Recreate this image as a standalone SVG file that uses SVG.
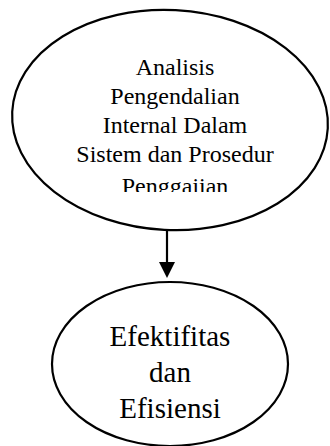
<svg xmlns="http://www.w3.org/2000/svg" width="330" height="446" viewBox="0 0 330 446">
<style>
.shape{fill:#fff;stroke:#000;stroke-width:2.2}
.t1{font-family:"Liberation Serif","Times New Roman",serif;font-size:24px;fill:#000;text-anchor:middle}
.t2{font-family:"Liberation Serif","Times New Roman",serif;font-size:29px;fill:#000;text-anchor:middle}
</style>
<defs>
<clipPath id="clip1"><rect x="0" y="0" width="330" height="192"/></clipPath>
</defs>
<rect width="330" height="446" fill="#fff"/>
<g id="node1">
<ellipse class="shape" cx="170" cy="120" rx="158" ry="110" transform="rotate(3 170 120)"/>
<g clip-path="url(#clip1)">
<text class="t1" x="175" y="75">Analisis</text>
<text class="t1" x="175" y="104">Pengendalian</text>
<text class="t1" x="175" y="133">Internal Dalam</text>
<text class="t1" x="175" y="162">Sistem dan Prosedur</text>
<text class="t1" x="175" y="194">Penggajian</text>
</g>
</g>
<g id="node2">
<ellipse class="shape" cx="170" cy="364" rx="118" ry="82"/>
<text class="t2" x="170" y="346">Efektifitas</text>
<text class="t2" x="170" y="382">dan</text>
<text class="t2" x="170" y="418">Efisiensi</text>
</g>
<g id="connectors">
<line x1="167" y1="231" x2="167" y2="263" stroke="#000" stroke-width="2.2"/>
<polygon points="159,262 175,262 167,278" fill="#000"/>
</g>
</svg>
